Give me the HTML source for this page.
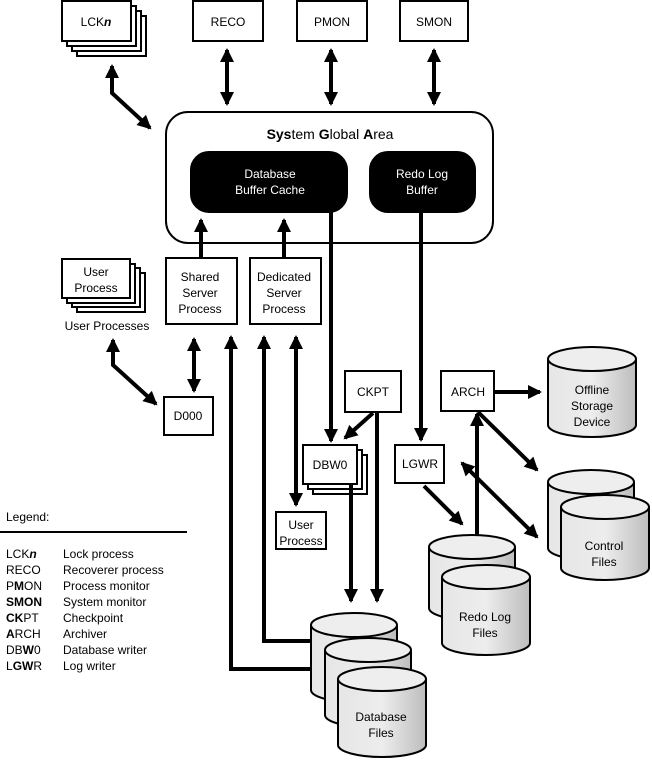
<!DOCTYPE html>
<html><head><meta charset="utf-8"><style>
html,body{margin:0;padding:0;background:#fff;}
svg{display:block;font-family:"Liberation Sans",sans-serif;font-size:12px;}
</style></head><body>
<svg width="652" height="765" viewBox="0 0 652 765" xmlns="http://www.w3.org/2000/svg">
<defs>
<linearGradient id="g" x1="0" x2="1" y1="0" y2="0">
<stop offset="0" stop-color="#e6e6e6"/><stop offset="0.5" stop-color="#ededed"/><stop offset="1" stop-color="#bdbdbd"/>
</linearGradient>
<marker id="a" markerUnits="userSpaceOnUse" markerWidth="14" markerHeight="14" refX="12" refY="7" orient="auto">
<path d="M0,0 L14,7 L0,14 Z" fill="#000"/></marker>
<marker id="s" markerUnits="userSpaceOnUse" markerWidth="14" markerHeight="14" refX="2" refY="7" orient="auto">
<path d="M14,0 L0,7 L14,14 Z" fill="#000"/></marker>
</defs>
<g stroke="#000" stroke-width="2" fill="#fff">
<rect x="77" y="16" width="69" height="40"/><rect x="72" y="11" width="69" height="40"/><rect x="67" y="6" width="69" height="40"/><rect x="62" y="1" width="69" height="40"/>
<rect x="193" y="1" width="70" height="40"/>
<rect x="297" y="1" width="70" height="40"/>
<rect x="400" y="1" width="68" height="40"/>
<rect x="166" y="112" width="327" height="131" rx="22"/>
<rect x="191" y="152" width="156" height="60" rx="18" fill="#000"/>
<rect x="370" y="152" width="105" height="60" rx="18" fill="#000"/>
<rect x="166" y="258" width="71" height="66"/>
<rect x="250" y="258" width="71" height="66"/>
<rect x="77" y="273" width="68" height="39"/><rect x="72" y="268" width="68" height="39"/><rect x="67" y="264" width="68" height="39"/><rect x="62" y="259" width="68" height="39"/>
<rect x="164" y="397" width="49" height="38"/>
<rect x="345" y="371" width="56" height="41"/>
<rect x="441" y="371" width="53" height="40"/>
<rect x="313" y="455" width="54" height="39"/><rect x="308" y="450" width="54" height="39"/><rect x="303" y="445" width="54" height="39"/>
<rect x="395" y="445" width="49" height="38"/>
<rect x="276" y="512" width="50" height="37"/>
</g>
<g fill="none" stroke="#000" stroke-width="4">
<polyline points="112,66 112,93 150,128" marker-start="url(#s)" marker-end="url(#a)"/>
<line x1="227" y1="50" x2="227" y2="104" marker-start="url(#s)" marker-end="url(#a)"/>
<line x1="331" y1="50" x2="331" y2="104" marker-start="url(#s)" marker-end="url(#a)"/>
<line x1="434" y1="50" x2="434" y2="104" marker-start="url(#s)" marker-end="url(#a)"/>
<line x1="201" y1="258" x2="201" y2="220" marker-end="url(#a)"/>
<line x1="284" y1="258" x2="284" y2="220" marker-end="url(#a)"/>
<polyline points="113,340 113,365 156,404" marker-start="url(#s)" marker-end="url(#a)"/>
<line x1="194" y1="339" x2="194" y2="391" marker-start="url(#s)" marker-end="url(#a)"/>
<polyline points="330,669 231,669 231,337" marker-end="url(#a)"/>
<polyline points="318,641 264,641 264,337" marker-end="url(#a)"/>
<line x1="296" y1="337" x2="296" y2="505" marker-start="url(#s)" marker-end="url(#a)"/>
<line x1="331" y1="212" x2="331" y2="441" marker-end="url(#a)"/>
<line x1="373" y1="413" x2="345" y2="438" marker-end="url(#a)"/>
<line x1="377" y1="412" x2="377" y2="601" marker-end="url(#a)"/>
<line x1="351" y1="484" x2="351" y2="601" marker-end="url(#a)"/>
<line x1="421" y1="212" x2="421" y2="440" marker-end="url(#a)"/>
<line x1="494" y1="392" x2="540" y2="392" marker-end="url(#a)"/>
<line x1="478" y1="412" x2="537" y2="470" marker-end="url(#a)"/>
<line x1="477" y1="536" x2="477" y2="414" marker-end="url(#a)"/>
<line x1="424" y1="486" x2="462" y2="524" marker-end="url(#a)"/>
<line x1="462" y1="463" x2="537" y2="537" marker-start="url(#s)" marker-end="url(#a)"/>
</g>
<g stroke="#000" stroke-width="2">
<path d="M548,359 V425 A44,12 0 0 0 636,425 V359" fill="url(#g)"/><ellipse cx="592" cy="359" rx="44" ry="12" fill="#eee"/>
<path d="M548,482 V548 A43,12 0 0 0 634,548 V482" fill="url(#g)"/><ellipse cx="591" cy="482" rx="43" ry="12" fill="#eee"/>
<path d="M561,507 V568 A44,12 0 0 0 649,568 V507" fill="url(#g)"/><ellipse cx="605" cy="507" rx="44" ry="12" fill="#eee"/>
<path d="M429,547 V608 A43,12 0 0 0 515,608 V547" fill="url(#g)"/><ellipse cx="472" cy="547" rx="43" ry="12" fill="#eee"/>
<path d="M442,577 V643 A44,12 0 0 0 530,643 V577" fill="url(#g)"/><ellipse cx="486" cy="577" rx="44" ry="12" fill="#eee"/>
<path d="M311,625 V690 A43,12 0 0 0 397,690 V625" fill="url(#g)"/><ellipse cx="354" cy="625" rx="43" ry="12" fill="#eee"/>
<path d="M325,650 V715 A43,12 0 0 0 411,715 V650" fill="url(#g)"/><ellipse cx="368" cy="650" rx="43" ry="12" fill="#eee"/>
<path d="M338,679 V745 A44,12 0 0 0 426,745 V679" fill="url(#g)"/><ellipse cx="382" cy="679" rx="44" ry="12" fill="#eee"/>
</g>
<g text-anchor="middle" fill="#000">
<text x="96" y="26">LCK<tspan font-style="italic" font-weight="bold">n</tspan></text>
<text x="228" y="26">RECO</text>
<text x="332" y="26">PMON</text>
<text x="434" y="26">SMON</text>
<text x="330" y="139" font-size="14"><tspan font-weight="bold">Sys</tspan>tem <tspan font-weight="bold">G</tspan>lobal <tspan font-weight="bold">A</tspan>rea</text>
<text x="270" y="178" fill="#fff">Database</text><text x="270" y="194" fill="#fff">Buffer Cache</text>
<text x="422" y="178" fill="#fff">Redo Log</text><text x="422" y="194" fill="#fff">Buffer</text>
<text x="200" y="281">Shared</text><text x="200" y="297">Server</text><text x="200" y="313">Process</text>
<text x="284" y="281">Dedicated</text><text x="284" y="297">Server</text><text x="284" y="313">Process</text>
<text x="96" y="276">User</text><text x="96" y="292">Process</text>
<text x="107" y="330">User Processes</text>
<text x="188" y="420">D000</text>
<text x="373" y="396">CKPT</text>
<text x="468" y="396">ARCH</text>
<text x="330" y="469">DBW0</text>
<text x="420" y="468">LGWR</text>
<text x="301" y="529">User</text><text x="301" y="545">Process</text>
<text x="592" y="394">Offline</text><text x="592" y="410">Storage</text><text x="592" y="426">Device</text>
<text x="604" y="550">Control</text><text x="604" y="566">Files</text>
<text x="485" y="621">Redo Log</text><text x="485" y="637">Files</text>
<text x="381" y="721">Database</text><text x="381" y="737">Files</text>
</g>
<g fill="#000">
<text x="6" y="521">Legend:</text>
<rect x="0" y="531" width="187" height="2"/>
<text x="6" y="558">LCK<tspan font-weight="bold" font-style="italic">n</tspan></text><text x="63" y="558">Lock process</text>
<text x="6" y="574">RECO</text><text x="63" y="574">Recoverer process</text>
<text x="6" y="590">P<tspan font-weight="bold">M</tspan>ON</text><text x="63" y="590">Process monitor</text>
<text x="6" y="606" font-weight="bold">SMON</text><text x="63" y="606">System monitor</text>
<text x="6" y="622"><tspan font-weight="bold">CK</tspan>PT</text><text x="63" y="622">Checkpoint</text>
<text x="6" y="638"><tspan font-weight="bold">A</tspan>RCH</text><text x="63" y="638">Archiver</text>
<text x="6" y="654">DB<tspan font-weight="bold">W</tspan>0</text><text x="63" y="654">Database writer</text>
<text x="6" y="670">L<tspan font-weight="bold">GW</tspan>R</text><text x="63" y="670">Log writer</text>
</g>
</svg>
</body></html>
